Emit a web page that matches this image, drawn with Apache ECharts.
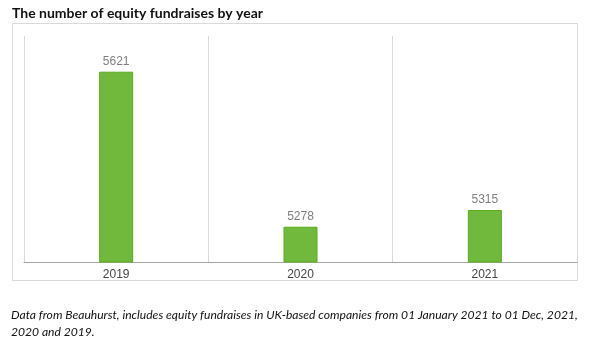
<!DOCTYPE html>
<html>
<head>
<meta charset="utf-8">
<script src="https://cdn.jsdelivr.net/npm/echarts@6/dist/echarts.min.js"></script>
<style>
  html, body { margin: 0; padding: 0; background: #fff; }
  #chart { width: 600px; height: 353px; }
</style>
</head>
<body>
<div id="chart"></div>
<script>
  // data
  var years = ['2019', '2020', '2021'];
  var fundraises = [5621, 5278, 5315];

  var titleText = 'The number of equity fundraises by year';
  var noteLines = [
    'Data from Beauhurst, includes equity fundraises in UK-based companies from 01 January 2021 to 01 Dec, 2021,',
    '2020 and 2019.'
  ];

  var myChart = echarts.init(document.getElementById('chart'));
  var option = {
    backgroundColor: '#fff',
    animation: false,
    title: {
      text: titleText,
      left: 7,
      top: 1,
      textStyle: {
        fontFamily: 'Lato',
        fontWeight: 'bold',
        fontSize: 14,
        color: '#111'
      }
    },
    graphic: [
      {
        type: 'rect',
        shape: { x: 12.5, y: 23.5, width: 565, height: 257 },
        style: { fill: 'none', stroke: '#d9d9d9', lineWidth: 1 },
        z: -1
      },
      {
        type: 'text',
        left: 11,
        top: 307,
        style: {
          text: noteLines.join('\n'),
          font: 'italic 12.1px Lato',
          lineHeight: 17,
          fill: '#111'
        }
      }
    ],
    grid: {
      left: 24,
      right: 23,
      top: 36,
      bottom: 91
    },
    xAxis: {
      type: 'category',
      data: years,
      axisLine: { lineStyle: { color: '#a6a6a6', width: 1 } },
      axisTick: { show: false },
      axisLabel: {
        color: '#444',
        fontFamily: 'Liberation Sans',
        fontSize: 12,
        margin: 7
      },
      splitLine: { show: true, lineStyle: { color: '#d9d9d9' } }
    },
    yAxis: {
      type: 'value',
      min: 5200,
      max: 5700,
      show: false,
      splitLine: { show: false }
    },
    series: [
      {
        type: 'bar',
        data: fundraises,
        barWidth: 34,
        itemStyle: {
          color: '#70b93c',
          borderColor: '#5aab1e',
          borderWidth: 1
        },
        label: {
          show: true,
          position: 'top',
          distance: 4,
          color: '#7f7f7f',
          fontFamily: 'Liberation Sans',
          fontSize: 12
        }
      }
    ]
  };
  myChart.setOption(option);
  window.addEventListener('resize', function () {
    myChart.resize();
  });
</script>
</body>
</html>
